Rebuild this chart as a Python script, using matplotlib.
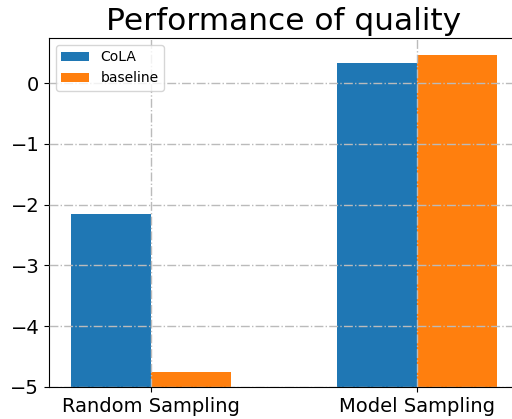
import matplotlib
matplotlib.use("Agg")
import matplotlib.pyplot as plt
import numpy as np

categories = ["Random Sampling", "Model Sampling"]
cola = [-2.15, 0.33]
baseline = [-4.75, 0.47]
floor = -5

fig = plt.figure(figsize=(5.12, 4.19), dpi=100)
ax = fig.add_axes([0.0957, 0.0764, 0.9175, 0.833])
x = np.arange(len(categories))
w = 0.3
ax.bar(x - w/2, np.array(cola) - floor, w, bottom=floor, color="#1f77b4", label="CoLA")
ax.bar(x + w/2, np.array(baseline) - floor, w, bottom=floor, color="#ff7f0e", label="baseline")
ax.set_xticks(x)
ax.set_xticklabels(categories, fontsize=14)
ax.tick_params(axis="y", labelsize=14)
ax.set_xlim(-0.383, 1.383)
ax.spines["right"].set_visible(False)
ax.set_axisbelow(False)
ax.grid(True, linestyle="-.", color="#bbbbbb", linewidth=1)
ax.set_title("Performance of quality", fontsize=22.5)
ax.legend(loc="upper left", fontsize=10)
fig.savefig("out.png", dpi=100)
